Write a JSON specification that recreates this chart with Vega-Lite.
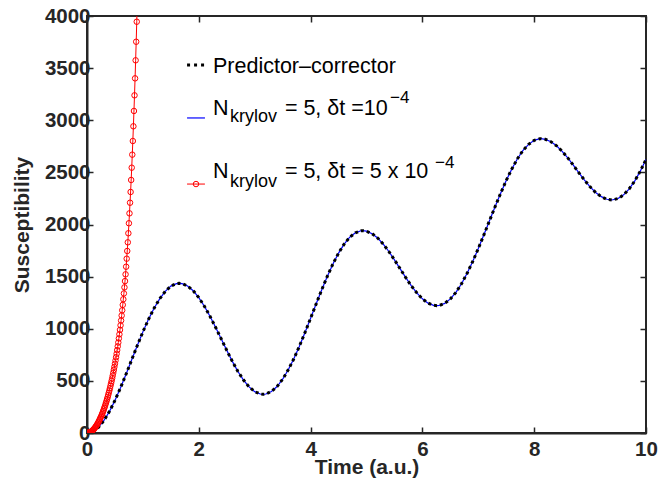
{
  "$schema": "https://vega.github.io/schema/vega-lite/v6.json",
  "width": 559,
  "height": 417,
  "autosize": "none",
  "padding": {"left": 87, "top": 16, "right": 13, "bottom": 48},
  "background": "white",
  "config": {
    "view": {"stroke": "#262626", "strokeWidth": 2},
    "axis": {
      "grid": false,
      "labelFont": "Liberation Sans",
      "labelFontWeight": "bold",
      "labelFontSize": 20.5,
      "labelColor": "#262626",
      "titleFont": "Liberation Sans",
      "titleFontWeight": "bold",
      "titleFontSize": 21,
      "titleColor": "#262626",
      "domainColor": "#262626",
      "domainWidth": 2,
      "tickColor": "#262626",
      "tickWidth": 1.5,
      "tickSize": -6,
      "labelFlush": false,
      "labelOverlap": false
    }
  },
  "datasets": {
    "pc": [
      {"t":0,"v":0},{"t":0.1,"v":13},{"t":0.2,"v":52},{"t":0.3,"v":118},{"t":0.4,"v":205},{"t":0.5,"v":312},{"t":0.6,"v":434},{"t":0.7,"v":566},{"t":0.8,"v":703},{"t":0.9,"v":840},{"t":1.0,"v":970},{"t":1.1,"v":1090},{"t":1.2,"v":1197},{"t":1.3,"v":1287},{"t":1.4,"v":1358},{"t":1.5,"v":1409},{"t":1.6,"v":1433},{"t":1.65,"v":1436},{"t":1.7,"v":1433},{"t":1.8,"v":1410},{"t":1.9,"v":1365},{"t":2.0,"v":1299},{"t":2.1,"v":1216},{"t":2.2,"v":1120},{"t":2.3,"v":1014},{"t":2.4,"v":904},{"t":2.5,"v":793},{"t":2.6,"v":687},{"t":2.7,"v":590},{"t":2.8,"v":508},{"t":2.9,"v":442},{"t":3.0,"v":397},{"t":3.1,"v":374},{"t":3.15,"v":371},{"t":3.2,"v":374},{"t":3.3,"v":398},{"t":3.4,"v":446},{"t":3.5,"v":516},{"t":3.6,"v":606},{"t":3.7,"v":712},{"t":3.8,"v":833},{"t":3.9,"v":964},{"t":4.0,"v":1101},{"t":4.1,"v":1239},{"t":4.2,"v":1375},{"t":4.3,"v":1504},{"t":4.4,"v":1622},{"t":4.5,"v":1726},{"t":4.6,"v":1812},{"t":4.7,"v":1878},{"t":4.8,"v":1920},{"t":4.9,"v":1940},{"t":4.93,"v":1941},{"t":5.0,"v":1936},{"t":5.1,"v":1912},{"t":5.2,"v":1870},{"t":5.3,"v":1812},{"t":5.4,"v":1741},{"t":5.5,"v":1661},{"t":5.6,"v":1577},{"t":5.7,"v":1493},{"t":5.8,"v":1413},{"t":5.9,"v":1344},{"t":6.0,"v":1287},{"t":6.1,"v":1246},{"t":6.2,"v":1225},{"t":6.26,"v":1221},{"t":6.3,"v":1223},{"t":6.4,"v":1243},{"t":6.5,"v":1286},{"t":6.6,"v":1349},{"t":6.7,"v":1432},{"t":6.8,"v":1532},{"t":6.9,"v":1645},{"t":7.0,"v":1769},{"t":7.1,"v":1901},{"t":7.2,"v":2036},{"t":7.3,"v":2170},{"t":7.4,"v":2300},{"t":7.5,"v":2423},{"t":7.6,"v":2533},{"t":7.7,"v":2631},{"t":7.8,"v":2711},{"t":7.9,"v":2769},{"t":8.0,"v":2807},{"t":8.1,"v":2823},{"t":8.12,"v":2823},{"t":8.2,"v":2817},{"t":8.3,"v":2794},{"t":8.4,"v":2755},{"t":8.5,"v":2702},{"t":8.6,"v":2639},{"t":8.7,"v":2569},{"t":8.8,"v":2496},{"t":8.9,"v":2426},{"t":9.0,"v":2361},{"t":9.1,"v":2307},{"t":9.2,"v":2267},{"t":9.3,"v":2242},{"t":9.39,"v":2235},{"t":9.5,"v":2249},{"t":9.6,"v":2285},{"t":9.7,"v":2342},{"t":9.8,"v":2419},{"t":9.9,"v":2514},{"t":10.0,"v":2624}
    ],
    "red": [
      {"t":0.00,"v":0},{"t":0.01,"v":0.3},{"t":0.02,"v":1},{"t":0.03,"v":2.5},{"t":0.04,"v":4},{"t":0.05,"v":6},{"t":0.06,"v":9},{"t":0.07,"v":12},{"t":0.08,"v":16},{"t":0.09,"v":20},
      {"t":0.10,"v":25},{"t":0.11,"v":30},{"t":0.12,"v":36},{"t":0.13,"v":42},{"t":0.14,"v":49},{"t":0.15,"v":56},{"t":0.16,"v":64},{"t":0.17,"v":72},{"t":0.18,"v":81},{"t":0.19,"v":90},
      {"t":0.20,"v":100},{"t":0.21,"v":110},{"t":0.22,"v":121},{"t":0.23,"v":132},{"t":0.24,"v":144},{"t":0.25,"v":156},{"t":0.26,"v":169},{"t":0.27,"v":182},{"t":0.28,"v":196},{"t":0.29,"v":210},
      {"t":0.30,"v":225},{"t":0.31,"v":240},{"t":0.32,"v":256},{"t":0.33,"v":273},{"t":0.34,"v":290},{"t":0.35,"v":308},{"t":0.36,"v":326},{"t":0.37,"v":345},{"t":0.38,"v":365},{"t":0.39,"v":386},
      {"t":0.40,"v":407},{"t":0.41,"v":429},{"t":0.42,"v":452},{"t":0.43,"v":475},{"t":0.44,"v":499},{"t":0.45,"v":524},{"t":0.46,"v":550},{"t":0.47,"v":577},{"t":0.48,"v":605},{"t":0.49,"v":634},
      {"t":0.50,"v":664},{"t":0.51,"v":695},{"t":0.52,"v":727},{"t":0.53,"v":760},{"t":0.54,"v":795},{"t":0.55,"v":831},{"t":0.56,"v":868},{"t":0.57,"v":907},{"t":0.58,"v":947},{"t":0.59,"v":989},
      {"t":0.60,"v":1033},{"t":0.61,"v":1079},{"t":0.62,"v":1127},{"t":0.63,"v":1177},{"t":0.64,"v":1229},{"t":0.65,"v":1283},{"t":0.66,"v":1339},{"t":0.67,"v":1397},{"t":0.68,"v":1457},{"t":0.69,"v":1522},
      {"t":0.70,"v":1595},{"t":0.71,"v":1672},{"t":0.72,"v":1746},{"t":0.73,"v":1829},{"t":0.74,"v":1916},{"t":0.75,"v":2012},{"t":0.76,"v":2107},{"t":0.77,"v":2209},{"t":0.78,"v":2312},{"t":0.79,"v":2427},
      {"t":0.80,"v":2545},{"t":0.81,"v":2670},{"t":0.82,"v":2801},{"t":0.83,"v":2942},{"t":0.84,"v":3089},{"t":0.85,"v":3239},{"t":0.86,"v":3402},{"t":0.87,"v":3575},{"t":0.88,"v":3753},{"t":0.89,"v":3945},
      {"t":0.90,"v":4145}
    ],
    "legsym": [
      {"t":1.79,"v":3530,"s":"pc"},{"t":2.11,"v":3530,"s":"pc"},
      {"t":1.79,"v":3022,"s":"k1"},{"t":2.11,"v":3022,"s":"k1"},
      {"t":1.79,"v":2388,"s":"k2"},{"t":2.11,"v":2388,"s":"k2"}
    ],
    "legmark": [{"t":1.95,"v":2388}],
    "legmain": [
      {"t":2.254,"v":3450,"txt":"Predictor–corrector"},
      {"t":2.254,"v":3050,"txt":"N"},
      {"t":3.54,"v":3050,"txt":"= 5, δt =10"},
      {"t":2.254,"v":2443,"txt":"N"},
      {"t":3.54,"v":2443,"txt":"= 5, δt = 5 x 10"}
    ],
    "legsub": [
      {"t":2.558,"v":2986,"txt":"krylov"},
      {"t":2.558,"v":2357,"txt":"krylov"}
    ],
    "legsup": [
      {"t":5.42,"v":3163,"txt":"−4"},
      {"t":6.225,"v":2539,"txt":"−4"}
    ]
  },
  "encoding": {
    "x": {"field": "t", "type": "quantitative", "scale": {"domain": [0, 10], "nice": false, "zero": false}, "axis": null},
    "y": {"field": "v", "type": "quantitative", "scale": {"domain": [0, 4000], "nice": false}, "axis": null}
  },
  "layer": [
    {
      "data": {"name": "pc"},
      "mark": {"type": "line", "color": "#0000ff", "strokeWidth": 1.2, "clip": true},
      "encoding": {
        "x": {"field": "t", "type": "quantitative", "axis": {"orient": "bottom", "values": [0, 2, 4, 6, 8, 10], "title": "Time (a.u.)", "labelPadding": 12, "titlePadding": -3}},
        "y": {"field": "v", "type": "quantitative", "axis": {"orient": "left", "values": [0, 500, 1000, 1500, 2000, 2500, 3000, 3500, 4000], "format": "d", "title": "Susceptibility", "labelPadding": 3, "titlePadding": 12}}
      }
    },
    {
      "data": {"name": "pc"},
      "mark": {"type": "line", "color": "#000000", "strokeWidth": 3, "strokeDash": [3, 3], "clip": true},
      "encoding": {}
    },
    {
      "data": {"name": "red"},
      "mark": {"type": "line", "color": "#ff0000", "strokeWidth": 1, "clip": true},
      "encoding": {
        "x": {"field": "t", "type": "quantitative", "axis": {"orient": "top", "values": [0, 2, 4, 6, 8, 10], "labels": false, "title": null, "domain": false}},
        "y": {"field": "v", "type": "quantitative", "axis": {"orient": "right", "values": [0, 500, 1000, 1500, 2000, 2500, 3000, 3500, 4000], "labels": false, "title": null, "domain": false}}
      }
    },
    {
      "data": {"name": "red"},
      "mark": {"type": "point", "shape": "circle", "filled": false, "color": "#ff0000", "strokeWidth": 1, "size": 30, "opacity": 1, "clip": true},
      "encoding": {}
    },
    {
      "data": {"name": "legsym"},
      "transform": [{"filter": "datum.s === 'pc'"}],
      "mark": {"type": "line", "color": "#000000", "strokeWidth": 3, "strokeDash": [3, 4]},
      "encoding": {}
    },
    {
      "data": {"name": "legsym"},
      "transform": [{"filter": "datum.s === 'k1'"}],
      "mark": {"type": "line", "color": "#0000ff", "strokeWidth": 1.2},
      "encoding": {}
    },
    {
      "data": {"name": "legsym"},
      "transform": [{"filter": "datum.s === 'k2'"}],
      "mark": {"type": "line", "color": "#ff0000", "strokeWidth": 1},
      "encoding": {}
    },
    {
      "data": {"name": "legmark"},
      "mark": {"type": "point", "shape": "circle", "filled": false, "color": "#ff0000", "strokeWidth": 1, "size": 30, "opacity": 1},
      "encoding": {}
    },
    {
      "data": {"name": "legmain"},
      "mark": {"type": "text", "align": "left", "baseline": "alphabetic", "font": "Liberation Sans", "fontSize": 21.5, "color": "#000000"},
      "encoding": {"text": {"field": "txt"}}
    },
    {
      "data": {"name": "legsub"},
      "mark": {"type": "text", "align": "left", "baseline": "alphabetic", "font": "Liberation Sans", "fontSize": 18, "color": "#000000"},
      "encoding": {"text": {"field": "txt"}}
    },
    {
      "data": {"name": "legsup"},
      "mark": {"type": "text", "align": "left", "baseline": "alphabetic", "font": "Liberation Sans", "fontSize": 17, "color": "#000000"},
      "encoding": {"text": {"field": "txt"}}
    }
  ]
}
